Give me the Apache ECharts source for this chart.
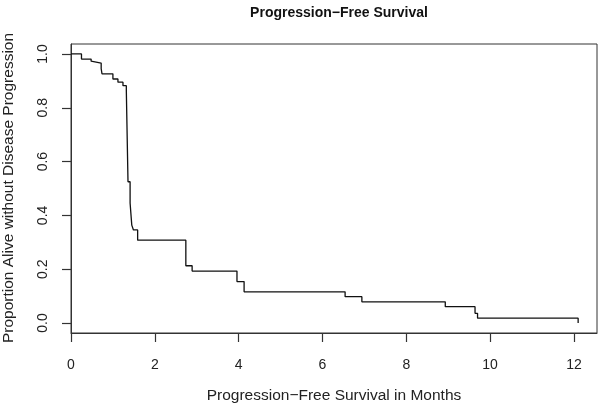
<!DOCTYPE html>
<html>
<head>
<meta charset="utf-8">
<script src="https://cdn.jsdelivr.net/npm/echarts@6/dist/echarts.min.js"></script>
<style>
html,body{margin:0;padding:0;background:#fff;}
#chart{width:600px;height:406px;}
</style>
</head>
<body>
<div id="chart"></div>
<script>
// Kaplan-Meier step data (time in months, survival proportion after each event)
const times = [0, 0.25, 0.48, 0.52, 0.72, 0.74, 1.0, 1.12, 1.24, 1.32, 1.36, 1.41, 1.45, 1.49, 1.59, 2.74, 2.89, 3.96, 4.13, 6.54, 6.94, 8.93, 9.64, 9.70, 12.1];
const survival = [1.0, 0.981, 0.973, 0.966, 0.945, 0.926, 0.907, 0.895, 0.882, 0.864, 0.525, 0.446, 0.364, 0.346, 0.308, 0.213, 0.193, 0.154, 0.116, 0.098, 0.079, 0.061, 0.036, 0.018, 0];
const xTicks = [0, 2, 4, 6, 8, 10, 12];
const yTicks = [0, 0.2, 0.4, 0.6, 0.8, 1.0];

const titleText = 'Progression\u2212Free Survival';
const xTitle = 'Progression\u2212Free Survival in Months';
const yTitle = 'Proportion Alive without Disease Progression';

const FONT = "'Liberation Sans', Arial, Helvetica, sans-serif";
const chart = echarts.init(document.getElementById('chart'), null, {renderer: 'canvas'});

const seriesData = times.map((t, i) => [t, survival[i]]);

chart.setOption({
  animation: false,
  backgroundColor: '#ffffff',
  title: {
    text: titleText,
    left: 334,
    textAlign: 'center',
    top: 1,
    textStyle: {fontFamily: FONT, fontSize: 14, fontWeight: 'bold', color: '#111'}
  },
  graphic: [
    {type: 'text', x: 334, y: 396, silent: true,
     style: {text: xTitle, textAlign: 'center', textVerticalAlign: 'middle',
             font: "15.5px 'Liberation Sans', Arial, sans-serif", fill: '#222'}},
    {type: 'text', x: 9, y: 188, rotation: Math.PI / 2, silent: true,
     style: {text: yTitle, textAlign: 'center', textVerticalAlign: 'middle',
             font: "15.5px 'Liberation Sans', Arial, sans-serif", fill: '#222'}}
  ],
  grid: {
    left: 71, right: 3, top: 44, bottom: 73,
    show: true, borderColor: '#333', borderWidth: 1, backgroundColor: 'transparent'
  },
  xAxis: {
    type: 'value',
    min: 0, max: 12.55,
    axisLine: {show: true, onZero: false, lineStyle: {color: '#333', width: 1}},
    axisTick: {show: true, inside: false, length: 9, lineStyle: {color: '#333', width: 1.2}, customValues: xTicks},
    axisLabel: {show: true, fontFamily: FONT, fontSize: 14, color: '#222', margin: 25, customValues: xTicks, formatter: v => String(v)},
    splitLine: {show: false}
  },
  yAxis: {
    type: 'value',
    min: -0.037, max: 1.037,
    axisLine: {show: true, onZero: false, lineStyle: {color: '#333', width: 1}},
    axisTick: {show: true, inside: false, length: 9, lineStyle: {color: '#333', width: 1.2}, customValues: yTicks},
    axisLabel: {show: true, fontFamily: FONT, fontSize: 14, color: '#222', margin: 21, rotate: 90, customValues: yTicks,
      formatter: v => v.toFixed(1)},
    splitLine: {show: false}
  },
  series: [{
    type: 'line',
    step: 'end',
    data: seriesData,
    showSymbol: false,
    symbol: 'none',
    lineStyle: {color: '#111', width: 1.3},
    clip: false
  }]
});
</script>
</body>
</html>
